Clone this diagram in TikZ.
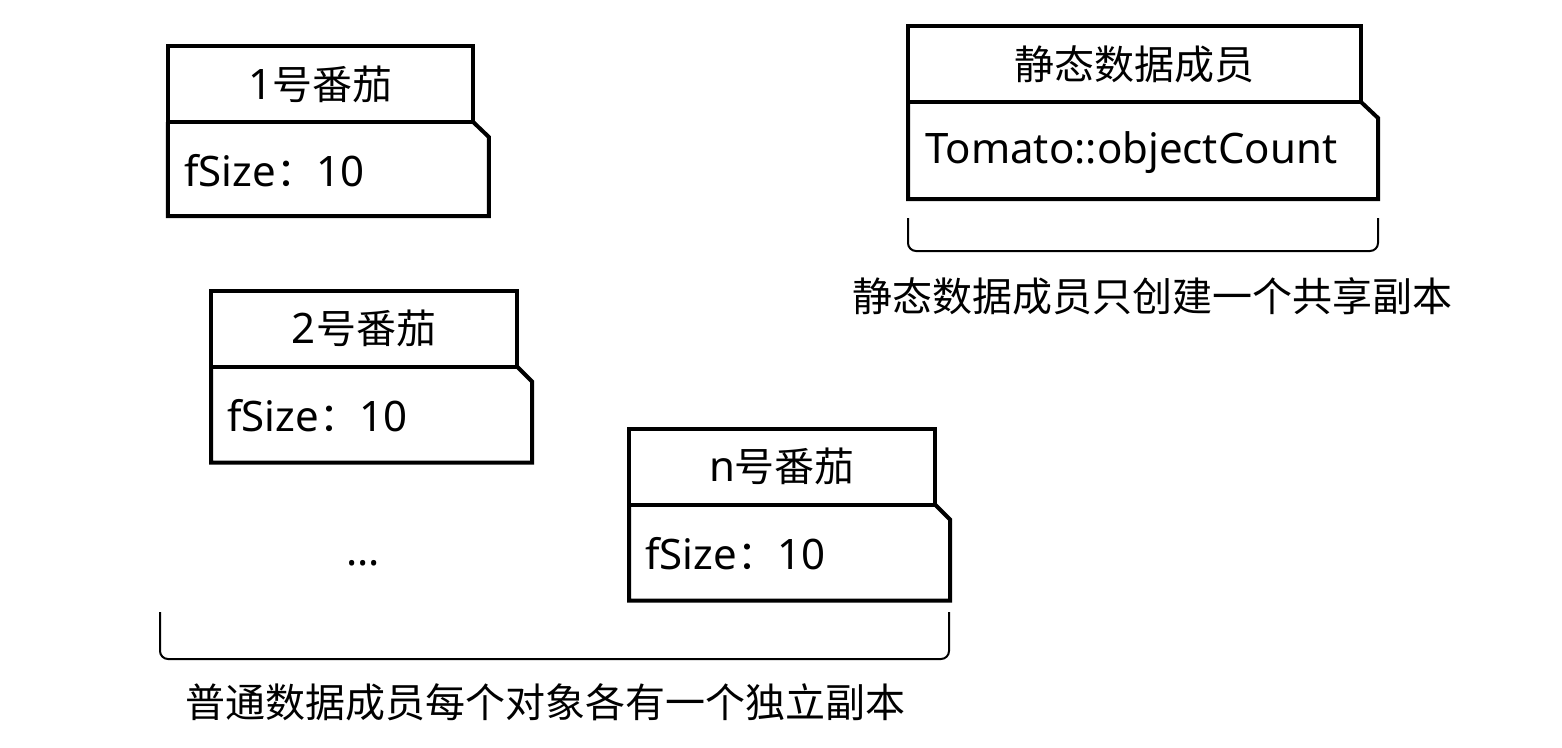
\documentclass[tikz,border=0pt]{standalone}
\usepackage{fontspec}
\setmainfont[Scale=1.05]{Noto Sans}
\newfontfamily\cjk{Noto Sans CJK SC}
\begin{document}
\begin{tikzpicture}[x=0.75pt, y=-0.75pt,
		font=\fontsize{30}{34}\selectfont,
		title/.style={draw, line width=3pt, inner sep=0pt, outer sep=0pt, minimum height=57pt},
		field/.style={anchor=west, inner sep=0pt},
		brace/.style={line width=1.5pt, rounded corners=6pt}]
			\useasboundingbox (0, 0) rectangle (1562, 747);

			% objects
			\node[title, minimum width=229pt]	(t1) at (320.5, 84) {1{\cjk 号番茄}};
			\draw[line width=3pt, line join=miter]	(t1.south west) -- ++(0, 94) -- ++(321, 0) -- ++(0, -79) -- (t1.south east);
			\node[field]	(f1) at (184, 171) {fSize{\cjk ：}10};

			\node[title, minimum width=229.5pt]	(t2) at (364, 328.5) {2{\cjk 号番茄}};
			\draw[line width=3pt, line join=miter]	(t2.south west) -- ++(0, 96) -- ++(321, 0) -- ++(0, -81) -- (t2.south east);
			\node[field]	(f2) at (227, 416) {fSize{\cjk ：}10};

			\node[title, minimum width=229.5pt]	(tn) at (782, 466.5) {n{\cjk 号番茄}};
			\draw[line width=3pt, line join=miter]	(tn.south west) -- ++(0, 96) -- ++(321, 0) -- ++(0, -81) -- (tn.south east);
			\node[field]	(fn) at (645, 554) {fSize{\cjk ：}10};

			\node	(dots) at (363, 563) {...};

			% static member
			\node[title, minimum width=339.75pt]	(ts) at (1134.5, 64) {\cjk 静态数据成员};
			\draw[line width=3pt, line join=miter]	(ts.south west) -- ++(0, 97) -- ++(470, 0) -- ++(0, -81) -- (ts.south east);
			\node[field]	(fs) at (925, 153) {Tomato::objectCount};

			% braces
			\draw[brace]	(160, 612) -- (160, 659) -- (949, 659) -- (949, 612);
			\node	(normal) at (545.5, 702) {\cjk 普通数据成员每个对象各有一个独立副本};

			\draw[brace]	(908, 218) -- (908, 251) -- (1378, 251) -- (1378, 218);
			\node	(shared) at (1152.5, 296) {\cjk 静态数据成员只创建一个共享副本};
		\end{tikzpicture}
\end{document}
